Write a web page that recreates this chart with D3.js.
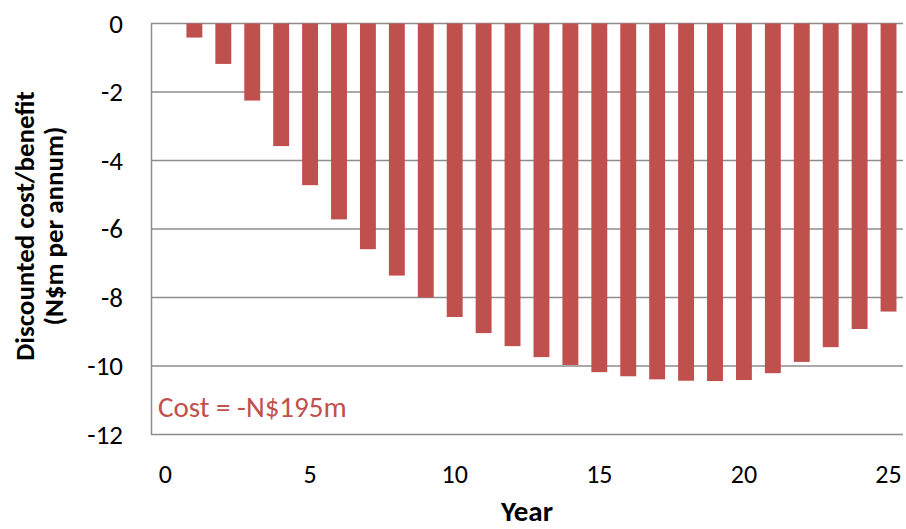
<!DOCTYPE html>
<html>
<head>
<meta charset="utf-8">
<script src="https://cdn.jsdelivr.net/npm/d3@7"></script>
<style>
  html, body { margin: 0; padding: 0; background: #fff; }
  svg text { font-family: Calibri, Carlito, Lato, "Open Sans", sans-serif; }
</style>
</head>
<body>
<svg id="chart" width="906" height="529"></svg>
<script>
// Discounted annual cost (N$m) for each year of the project
const years = d3.range(0, 26);
const costs = [0, -0.41, -1.18, -2.25, -3.58, -4.72, -5.72, -6.59, -7.36, -8.00, -8.57,
  -9.04, -9.42, -9.74, -9.97, -10.18, -10.30, -10.39, -10.43, -10.44, -10.41,
  -10.21, -9.88, -9.45, -8.92, -8.41];
const yTicks = [0, -2, -4, -6, -8, -10, -12];
const xTickLabels = [0, 5, 10, 15, 20, 25];
const totalLabel = "Cost = -N$195m";

const svg = d3.select("#chart");
const margin = { left: 151, right: 3, top: 23.5, bottom: 94.5 };
const W = 906, H = 529;

const x = d3.scaleBand()
  .domain(years)
  .range([margin.left, W - margin.right])
  .paddingInner(0.45)
  .paddingOuter(0.225);

const y = d3.scaleLinear()
  .domain([-12, 0])
  .range([H - margin.bottom, margin.top]);

const gridColor = "#8c8c8c";
const barColor = "#C0504D";

// horizontal gridlines
svg.append("g")
  .selectAll("line")
  .data(yTicks)
  .join("line")
  .attr("x1", margin.left)
  .attr("x2", W - margin.right)
  .attr("y1", d => y(d))
  .attr("y2", d => y(d))
  .attr("stroke", gridColor)
  .attr("stroke-width", 1.5);

// bars hang down from zero
svg.append("g")
  .selectAll("rect")
  .data(years.map((yr, i) => ({ yr, v: costs[i] })))
  .join("rect")
  .attr("x", d => x(d.yr))
  .attr("width", x.bandwidth())
  .attr("y", y(0))
  .attr("height", d => y(d.v) - y(0))
  .attr("fill", barColor);

// y axis
const yAxis = svg.append("g")
  .attr("transform", `translate(${margin.left},0)`)
  .call(d3.axisLeft(y).tickValues(yTicks).tickSize(0).tickPadding(28)
    .tickFormat(d => String(d)));
yAxis.select(".domain").attr("stroke", gridColor).attr("stroke-width", 1.5);
yAxis.selectAll("text")
  .attr("font-size", 27)
  .attr("fill", "#000");

// x axis labels sit below the plot
const xAxis = svg.append("g")
  .attr("transform", `translate(0,${H - margin.bottom})`)
  .call(d3.axisBottom(x).tickValues(xTickLabels).tickSize(0).tickPadding(30));
xAxis.select(".domain").remove();
xAxis.selectAll("text")
  .attr("font-size", 26)
  .attr("fill", "#000");

// axis titles
svg.append("text")
  .attr("x", (margin.left + W - margin.right) / 2)
  .attr("y", 521)
  .attr("text-anchor", "middle")
  .attr("font-size", 29)
  .attr("font-weight", "bold")
  .text("Year");

const yTitle = svg.append("text")
  .attr("transform", "translate(0,226) rotate(-90)")
  .attr("text-anchor", "middle")
  .attr("font-size", 27)
  .attr("font-weight", "bold");
yTitle.append("tspan").attr("x", 0).attr("y", 34).text("Discounted cost/benefit");
yTitle.append("tspan").attr("x", 0).attr("y", 63).text("(N$m per annum)");

// total cost annotation
svg.append("text")
  .attr("x", 158)
  .attr("y", 417)
  .attr("font-size", 29)
  .attr("fill", barColor)
  .text(totalLabel);
</script>
</body>
</html>
